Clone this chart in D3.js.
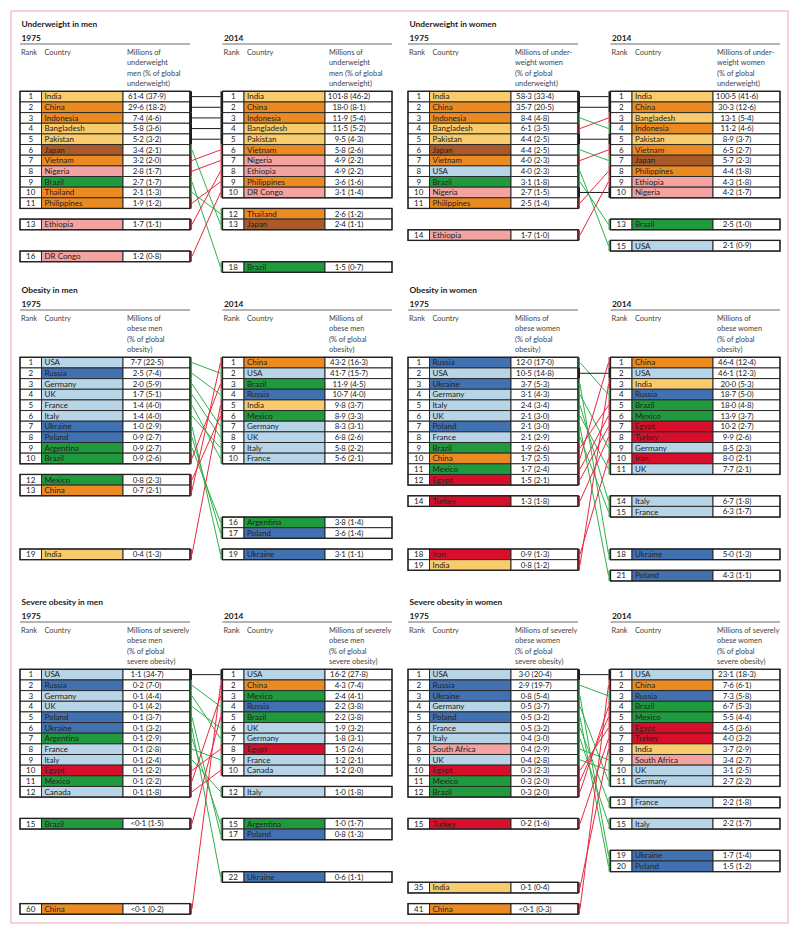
<!DOCTYPE html>
<html><head><meta charset="utf-8">
<script src="https://cdn.jsdelivr.net/npm/d3@7"></script>
<style>
body{margin:0;background:#fff}
svg text{font-family:Lato,"Open Sans","DejaVu Sans",sans-serif}
</style>
</head><body>
<svg id="chart" width="800" height="936"></svg>
<script>
// ---------------- DATA ----------------
// Underweight in men
const uwMen1975Country = ["India","China","Indonesia","Bangladesh","Pakistan","Japan","Vietnam","Nigeria","Brazil","Thailand","Philippines","Ethiopia","DR Congo"];
const uwMen1975Rank    = [1,2,3,4,5,6,7,8,9,10,11,13,16];
const uwMen1975Row     = [1,2,3,4,5,6,7,8,9,10,11,13,16];
const uwMen1975Value   = [61.4,29.6,7.4,5.8,5.2,3.4,3.2,2.8,2.7,2.1,1.9,1.7,1.2];
const uwMen1975Pct     = [37.9,18.2,4.6,3.6,3.2,2.1,2.0,1.7,1.7,1.3,1.2,1.1,0.8];
const uwMen2014Country = ["India","China","Indonesia","Bangladesh","Pakistan","Vietnam","Nigeria","Ethiopia","Philippines","DR Congo","Thailand","Japan","Brazil"];
const uwMen2014Rank    = [1,2,3,4,5,6,7,8,9,10,12,13,18];
const uwMen2014Row     = [1,2,3,4,5,6,7,8,9,10,12,13,17];
const uwMen2014Value   = [101.8,18.0,11.9,11.5,9.5,5.8,4.9,4.9,3.6,3.1,2.6,2.4,1.5];
const uwMen2014Pct     = [46.2,8.1,5.4,5.2,4.3,2.6,2.2,2.2,1.6,1.4,1.2,1.1,0.7];

// Underweight in women
const uwWomen1975Country = ["India","China","Indonesia","Bangladesh","Pakistan","Japan","Vietnam","USA","Brazil","Nigeria","Philippines","Ethiopia"];
const uwWomen1975Rank    = [1,2,3,4,5,6,7,8,9,10,11,14];
const uwWomen1975Row     = [1,2,3,4,5,6,7,8,9,10,11,14];
const uwWomen1975Value   = [58.3,35.7,8.4,6.1,4.4,4.4,4.0,4.0,3.1,2.7,2.5,1.7];
const uwWomen1975Pct     = [33.4,20.5,4.8,3.5,2.5,2.5,2.3,2.3,1.8,1.5,1.4,1.0];
const uwWomen2014Country = ["India","China","Bangladesh","Indonesia","Pakistan","Vietnam","Japan","Philippines","Ethiopia","Nigeria","Brazil","USA"];
const uwWomen2014Rank    = [1,2,3,4,5,6,7,8,9,10,13,15];
const uwWomen2014Row     = [1,2,3,4,5,6,7,8,9,10,13,15];
const uwWomen2014Value   = [100.5,30.3,13.1,11.2,8.9,6.5,5.7,4.4,4.3,4.2,2.5,2.1];
const uwWomen2014Pct     = [41.6,12.6,5.4,4.6,3.7,2.7,2.3,1.8,1.8,1.7,1.0,0.9];

// Obesity in men
const obMen1975Country = ["USA","Russia","Germany","UK","France","Italy","Ukraine","Poland","Argentina","Brazil","Mexico","China","India"];
const obMen1975Rank    = [1,2,3,4,5,6,7,8,9,10,12,13,19];
const obMen1975Row     = [1,2,3,4,5,6,7,8,9,10,12,13,19];
const obMen1975Value   = [7.7,2.5,2.0,1.7,1.4,1.4,1.0,0.9,0.9,0.9,0.8,0.7,0.4];
const obMen1975Pct     = [22.5,7.4,5.9,5.1,4.0,4.0,2.9,2.7,2.7,2.6,2.3,2.1,1.3];
const obMen2014Country = ["China","USA","Brazil","Russia","India","Mexico","Germany","UK","Italy","France","Argentina","Poland","Ukraine"];
const obMen2014Rank    = [1,2,3,4,5,6,7,8,9,10,16,17,19];
const obMen2014Row     = [1,2,3,4,5,6,7,8,9,10,16,17,19];
const obMen2014Value   = [43.2,41.7,11.9,10.7,9.8,8.9,8.3,6.8,5.8,5.6,3.8,3.6,3.1];
const obMen2014Pct     = [16.3,15.7,4.5,4.0,3.7,3.3,3.1,2.6,2.2,2.1,1.4,1.4,1.1];

// Obesity in women
const obWomen1975Country = ["Russia","USA","Ukraine","Germany","Italy","UK","Poland","France","Brazil","China","Mexico","Egypt","Turkey","Iran","India"];
const obWomen1975Rank    = [1,2,3,4,5,6,7,8,9,10,11,12,14,18,19];
const obWomen1975Row     = [1,2,3,4,5,6,7,8,9,10,11,12,14,19,20];
const obWomen1975Value   = [12.0,10.5,3.7,3.1,2.4,2.1,2.1,2.1,1.9,1.7,1.7,1.5,1.3,0.9,0.8];
const obWomen1975Pct     = [17.0,14.8,5.3,4.3,3.4,3.0,3.0,2.9,2.6,2.5,2.4,2.1,1.8,1.3,1.2];
const obWomen2014Country = ["China","USA","India","Russia","Brazil","Mexico","Egypt","Turkey","Germany","Iran","UK","Italy","France","Ukraine","Poland"];
const obWomen2014Rank    = [1,2,3,4,5,6,7,8,9,10,11,14,15,18,21];
const obWomen2014Row     = [1,2,3,4,5,6,7,8,9,10,11,14,15,19,21];
const obWomen2014Value   = [46.4,46.1,20.0,18.7,18.0,13.9,10.2,9.9,8.5,8.0,7.7,6.7,6.3,5.0,4.3];
const obWomen2014Pct     = [12.4,12.3,5.3,5.0,4.8,3.7,2.7,2.6,2.3,2.1,2.1,1.8,1.7,1.3,1.1];

// Severe obesity in men
const sevMen1975Country = ["USA","Russia","Germany","UK","Poland","Ukraine","Argentina","France","Italy","Egypt","Mexico","Canada","Brazil","China"];
const sevMen1975Rank    = [1,2,3,4,5,6,7,8,9,10,11,12,15,60];
const sevMen1975Row     = [1,2,3,4,5,6,7,8,9,10,11,12,15,23];
const sevMen1975Value   = [1.1,0.2,0.1,0.1,0.1,0.1,0.1,0.1,0.1,0.1,0.1,0.1,0.05,0.05];
const sevMen1975Pct     = [34.7,7.0,4.4,4.2,3.7,3.2,2.9,2.8,2.4,2.2,2.2,1.8,1.5,0.2];
const sevMen2014Country = ["USA","China","Mexico","Russia","Brazil","UK","Germany","Egypt","France","Canada","Italy","Argentina","Poland","Ukraine"];
const sevMen2014Rank    = [1,2,3,4,5,6,7,8,9,10,12,15,17,22];
const sevMen2014Row     = [1,2,3,4,5,6,7,8,9,10,12,15,16,20];
const sevMen2014Value   = [16.2,4.3,2.4,2.2,2.2,1.9,1.8,1.5,1.2,1.2,1.0,1.0,0.8,0.6];
const sevMen2014Pct     = [27.8,7.4,4.1,3.8,3.8,3.2,3.1,2.6,2.1,2.0,1.8,1.7,1.3,1.1];

// Severe obesity in women
const sevWomen1975Country = ["USA","Russia","Ukraine","Germany","Poland","France","Italy","South Africa","UK","Egypt","Mexico","Brazil","Turkey","India","China"];
const sevWomen1975Rank    = [1,2,3,4,5,6,7,8,9,10,11,12,15,35,41];
const sevWomen1975Row     = [1,2,3,4,5,6,7,8,9,10,11,12,15,21,23];
const sevWomen1975Value   = [3.0,2.9,0.8,0.5,0.5,0.5,0.4,0.4,0.4,0.3,0.3,0.3,0.2,0.1,0.05];
const sevWomen1975Pct     = [20.4,19.7,5.4,3.7,3.2,3.2,3.0,2.9,2.8,2.3,2.0,2.0,1.6,0.4,0.3];
const sevWomen2014Country = ["USA","China","Russia","Brazil","Mexico","Egypt","Turkey","India","South Africa","UK","Germany","France","Italy","Ukraine","Poland"];
const sevWomen2014Rank    = [1,2,3,4,5,6,7,8,9,10,11,13,15,19,20];
const sevWomen2014Row     = [1,2,3,4,5,6,7,8,9,10,11,13,15,18,19];
const sevWomen2014Value   = [23.1,7.6,7.3,6.7,5.5,4.5,4.0,3.7,3.4,3.1,2.7,2.2,2.2,1.7,1.5];
const sevWomen2014Pct     = [18.3,6.1,5.8,5.3,4.4,3.6,3.2,2.9,2.7,2.5,2.2,1.8,1.7,1.4,1.2];

// Region of each country (determines cell colour)
const countryRegion = {
  "India":"South Asia","Bangladesh":"South Asia","Pakistan":"South Asia",
  "China":"East and southeast Asia","Indonesia":"East and southeast Asia","Vietnam":"East and southeast Asia",
  "Thailand":"East and southeast Asia","Philippines":"East and southeast Asia",
  "Japan":"High-income Asia Pacific",
  "Nigeria":"Sub-Saharan Africa","Ethiopia":"Sub-Saharan Africa","DR Congo":"Sub-Saharan Africa","South Africa":"Sub-Saharan Africa",
  "Brazil":"Latin America","Argentina":"Latin America","Mexico":"Latin America",
  "USA":"High-income western","Germany":"High-income western","UK":"High-income western","France":"High-income western",
  "Italy":"High-income western","Canada":"High-income western",
  "Russia":"Central and eastern Europe","Ukraine":"Central and eastern Europe","Poland":"Central and eastern Europe",
  "Egypt":"Middle East and north Africa","Turkey":"Middle East and north Africa","Iran":"Middle East and north Africa"
};

// Panel texts
const panelTitles = ["Underweight in men","Underweight in women","Obesity in men","Obesity in women","Severe obesity in men","Severe obesity in women"];
const panelHeaders = [
  ["Millions of","underweight","men (% of global","underweight)"],
  ["Millions of under-","weight women","(% of global","underweight)"],
  ["Millions of","obese men","(% of global","obesity)"],
  ["Millions of","obese women","(% of global","obesity)"],
  ["Millions of severely","obese men","(% of global","severe obesity)"],
  ["Millions of severely","obese women","(% of global","severe obesity)"]
];
const yearLabels = ["1975","2014"];

// ---------------- STYLE ----------------
const regionColor = {
  "South Asia":"#F8CB6D",
  "East and southeast Asia":"#EC8A22",
  "High-income Asia Pacific":"#A95A28",
  "Sub-Saharan Africa":"#F3A3A1",
  "Latin America":"#1F9B3E",
  "High-income western":"#B8D4E7",
  "Central and eastern Europe":"#4171B1",
  "Middle East and north Africa":"#D80F2B"
};
const changeColor = {up:"#E8283F", down:"#2FB04B", same:"#1a1a1a"};

function table(country, rank, row, value, pct){
  return country.map((c,i)=>({country:c, rank:rank[i], row:row[i], value:value[i], pct:pct[i]}));
}
const panels = [
  [table(uwMen1975Country,uwMen1975Rank,uwMen1975Row,uwMen1975Value,uwMen1975Pct), table(uwMen2014Country,uwMen2014Rank,uwMen2014Row,uwMen2014Value,uwMen2014Pct)],
  [table(uwWomen1975Country,uwWomen1975Rank,uwWomen1975Row,uwWomen1975Value,uwWomen1975Pct), table(uwWomen2014Country,uwWomen2014Rank,uwWomen2014Row,uwWomen2014Value,uwWomen2014Pct)],
  [table(obMen1975Country,obMen1975Rank,obMen1975Row,obMen1975Value,obMen1975Pct), table(obMen2014Country,obMen2014Rank,obMen2014Row,obMen2014Value,obMen2014Pct)],
  [table(obWomen1975Country,obWomen1975Rank,obWomen1975Row,obWomen1975Value,obWomen1975Pct), table(obWomen2014Country,obWomen2014Rank,obWomen2014Row,obWomen2014Value,obWomen2014Pct)],
  [table(sevMen1975Country,sevMen1975Rank,sevMen1975Row,sevMen1975Value,sevMen1975Pct), table(sevMen2014Country,sevMen2014Rank,sevMen2014Row,sevMen2014Value,sevMen2014Pct)],
  [table(sevWomen1975Country,sevWomen1975Rank,sevWomen1975Row,sevWomen1975Value,sevWomen1975Pct), table(sevWomen2014Country,sevWomen2014Rank,sevWomen2014Row,sevWomen2014Value,sevWomen2014Pct)]
];

// ---------------- LAYOUT ----------------
const svg = d3.select("#chart");
svg.append("rect").attr("x",11).attr("y",11).attr("width",777).attr("height",912)
  .attr("fill","none").attr("stroke","#EFA6B6").attr("stroke-width",1);

const sectionTop = [91.3, 357.3, 669.3];
const colShift = [0, 388];
const rowH = 10.65;
const tableGeom = [
  {rankX:20, countryX:41.5, valueX:123, endX:190},
  {rankX:222.5, countryX:244, valueX:325, endX:392}
];
const dot = s => s.replace(".", "\u00B7");
const fmt1 = d3.format(".1f");
const fmtVal = v => v < 0.1 ? "<0\u00B71" : dot(fmt1(v));
const fmtCell = d => fmtVal(d.value) + " (" + dot(fmt1(d.pct)) + ")";

panels.forEach((pair, p) => {
  const shift = colShift[p % 2];
  const top = sectionTop[Math.floor(p / 2)];
  const g = svg.append("g").attr("transform", `translate(${shift},0)`);
  const y = d3.scaleLinear().domain([1, 2]).range([top, top + rowH]);

  g.append("text").attr("x", 21.5).attr("y", top - 67.3).attr("dy","0.35em")
    .attr("font-size", 8.4).attr("font-weight", 700).attr("fill","#1a1a1a").text(panelTitles[p]);

  pair.forEach((rows, t) => {
    const G = tableGeom[t];
    g.append("text").attr("x", t === 0 ? 21.5 : G.rankX + 1.5).attr("y", top - 53.3).attr("dy","0.35em")
      .attr("font-size", 8.4).attr("font-weight", 700).attr("fill","#1a1a1a").text(yearLabels[t]);
    g.append("line").attr("x1", G.rankX).attr("x2", G.endX).attr("y1", top - 47.3).attr("y2", top - 47.3)
      .attr("stroke", "#6b6b6b").attr("stroke-width", 1.2);
    const hy = top - 39;
    g.append("text").attr("x", G.rankX + 1).attr("y", hy).attr("dy","0.35em").attr("font-size",7.4).attr("fill","#444").text("Rank");
    g.append("text").attr("x", G.countryX + 3).attr("y", hy).attr("dy","0.35em").attr("font-size",7.4).attr("fill","#444").text("Country");
    panelHeaders[p].forEach((line, i) => {
      g.append("text").attr("x", G.valueX + 4).attr("y", hy + i * 10.4).attr("dy","0.35em")
        .attr("font-size",7.4).attr("fill","#444").text(line);
    });
  });

  const [a, b] = pair;
  const later = new Map(b.map(d => [d.country, d]));
  const earlier = new Map(a.map(d => [d.country, d]));
  const change = (r0, r1) => r1 < r0 ? "up" : (r1 > r0 ? "down" : "same");
  const links = a.filter(d => later.has(d.country)).map(d => ({from:d, to:later.get(d.country)}));
  g.selectAll("line.link").data(links).join("line").attr("class","link")
    .attr("x1", tableGeom[0].endX + 2).attr("x2", tableGeom[1].rankX - 2)
    .attr("y1", d => y(d.from.row) + rowH / 2).attr("y2", d => y(d.to.row) + rowH / 2)
    .attr("stroke", d => changeColor[change(d.from.rank, d.to.rank)]).attr("stroke-width", 1);

  pair.forEach((rows, t) => {
    const G = tableGeom[t];
    const rg = g.selectAll(null).data(rows).join("g");
    rg.append("rect").attr("x", G.rankX).attr("y", d => y(d.row)).attr("width", G.countryX - G.rankX).attr("height", rowH)
      .attr("fill","#fff").attr("stroke","#2a2a2a").attr("stroke-width",1);
    rg.append("rect").attr("x", G.countryX).attr("y", d => y(d.row)).attr("width", G.valueX - G.countryX).attr("height", rowH)
      .attr("fill", d => regionColor[countryRegion[d.country]]).attr("stroke","#2a2a2a").attr("stroke-width",1);
    rg.append("rect").attr("x", G.valueX).attr("y", d => y(d.row)).attr("width", G.endX - G.valueX).attr("height", rowH)
      .attr("fill","#fff").attr("stroke","#2a2a2a").attr("stroke-width",1);
    rg.append("text").attr("x", (G.rankX + G.countryX) / 2).attr("y", d => y(d.row) + rowH / 2).attr("dy","0.35em")
      .attr("text-anchor","middle").attr("font-size",8).attr("fill","#222").text(d => d.rank);
    rg.append("text").attr("x", G.countryX + 3).attr("y", d => y(d.row) + rowH / 2).attr("dy","0.35em")
      .attr("font-size",8).attr("fill","#222").text(d => d.country);
    rg.append("text").attr("x", G.valueX + 24).attr("y", d => y(d.row) + rowH / 2).attr("dy","0.35em")
      .attr("text-anchor","middle").attr("font-size",7.9).attr("fill","#222").text(fmtCell);

    const other = t === 0 ? later : earlier;
    rg.append("rect")
      .attr("x", t === 0 ? G.endX - 0.5 : G.rankX - 2)
      .attr("y", d => y(d.row)).attr("width", 2.5).attr("height", rowH)
      .attr("fill", d => {
        const o = other.get(d.country);
        if (!o) return "none";
        return t === 0 ? changeColor[change(d.rank, o.rank)] : changeColor[change(o.rank, d.rank)];
      });

    const runs = [];
    rows.forEach(d => {
      const last = runs[runs.length - 1];
      if (last && d.row === last.end + 1) last.end = d.row; else runs.push({start:d.row, end:d.row});
    });
    g.selectAll(null).data(runs).join("rect")
      .attr("x", G.rankX).attr("y", d => y(d.start)).attr("width", G.endX - G.rankX)
      .attr("height", d => y(d.end + 1) - y(d.start))
      .attr("fill","none").attr("stroke","#222").attr("stroke-width",1.3);
  });
});
</script>
</body></html>
